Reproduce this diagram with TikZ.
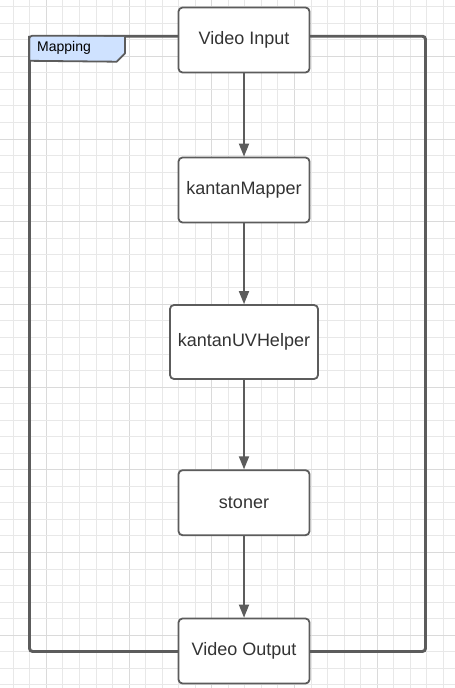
\documentclass[tikz,border=0pt]{standalone}
\usepackage{fontspec}
\setmainfont{Liberation Sans}
\usetikzlibrary{arrows.meta}
\definecolor{ln}{HTML}{5C5C5C}
\definecolor{tx}{HTML}{333333}
\definecolor{gridminor}{HTML}{E8E8E8}
\definecolor{gridmajor}{HTML}{DADADA}
\definecolor{tabfill}{HTML}{CFE2FF}
\tikzset{
  procbox/.style={draw=ln, line width=1.8pt, rounded corners=4pt, fill=white,
    text=tx, font=\fontsize{18}{20}\selectfont, inner sep=0pt,
    minimum width=131pt, minimum height=65pt},
  flow/.style={draw=ln, line width=1.8pt, -{Triangle[width=10pt,length=13pt]}},
  frameline/.style={draw=ln, line width=1.8pt, rounded corners=3pt}
}
\begin{document}
\begin{tikzpicture}[x=1pt,y=-1pt]
\useasboundingbox (0,0) rectangle (455,688);
\fill[white] (0,0) rectangle (455,688);
% grid
\foreach \k in {0,...,27} {
  \pgfmathsetmacro{\xx}{13.3+16.54*\k}
  \pgfmathtruncatemacro{\m}{mod(\k,5)}
  \ifnum\m=2
    \draw[gridmajor, line width=1pt] (\xx,0) -- (\xx,688);
  \else
    \draw[gridminor, line width=1pt] (\xx,0) -- (\xx,688);
  \fi
}
\foreach \k in {0,...,41} {
  \pgfmathsetmacro{\yy}{6.7+16.54*\k}
  \pgfmathtruncatemacro{\m}{mod(\k,5)}
  \ifnum\m=3
    \draw[gridmajor, line width=1pt] (0,\yy) -- (455,\yy);
  \else
    \draw[gridminor, line width=1pt] (0,\yy) -- (455,\yy);
  \fi
}
% container frame
\node[frameline, minimum width=395pt, minimum height=614.3pt, inner sep=0pt] (mapframe) at (227.5,343.85) {};
% tab
\filldraw[fill=tabfill, draw=ln, line width=1.8pt, line join=round]
  (mapframe.north west) -- ++(0,25) -- (116.7,61.7) -- (125,53.3) -- (125,36.7);
\draw[frameline] (mapframe.south west) rectangle (mapframe.north east);
\node[anchor=west, text=black, font=\fontsize{14}{16}\selectfont, inner sep=0pt] (maplabel) at (37,48) {Mapping};
% boxes
\node[procbox] (vin) at (244,40) {Video Input};
\node[procbox] (mapper) at (244,190) {kantanMapper};
\node[procbox, minimum width=148pt, minimum height=74pt] (uvh) at (244,342) {kantanUVHelper};
\node[procbox] (stoner) at (244,502.7) {stoner};
\node[procbox] (vout) at (244,651) {Video Output};
% arrows
\draw[flow] (vin) -- (mapper);
\draw[flow] (mapper) -- (uvh);
\draw[flow] (uvh) -- (stoner);
\draw[flow] (stoner) -- (vout);
\end{tikzpicture}
\end{document}
